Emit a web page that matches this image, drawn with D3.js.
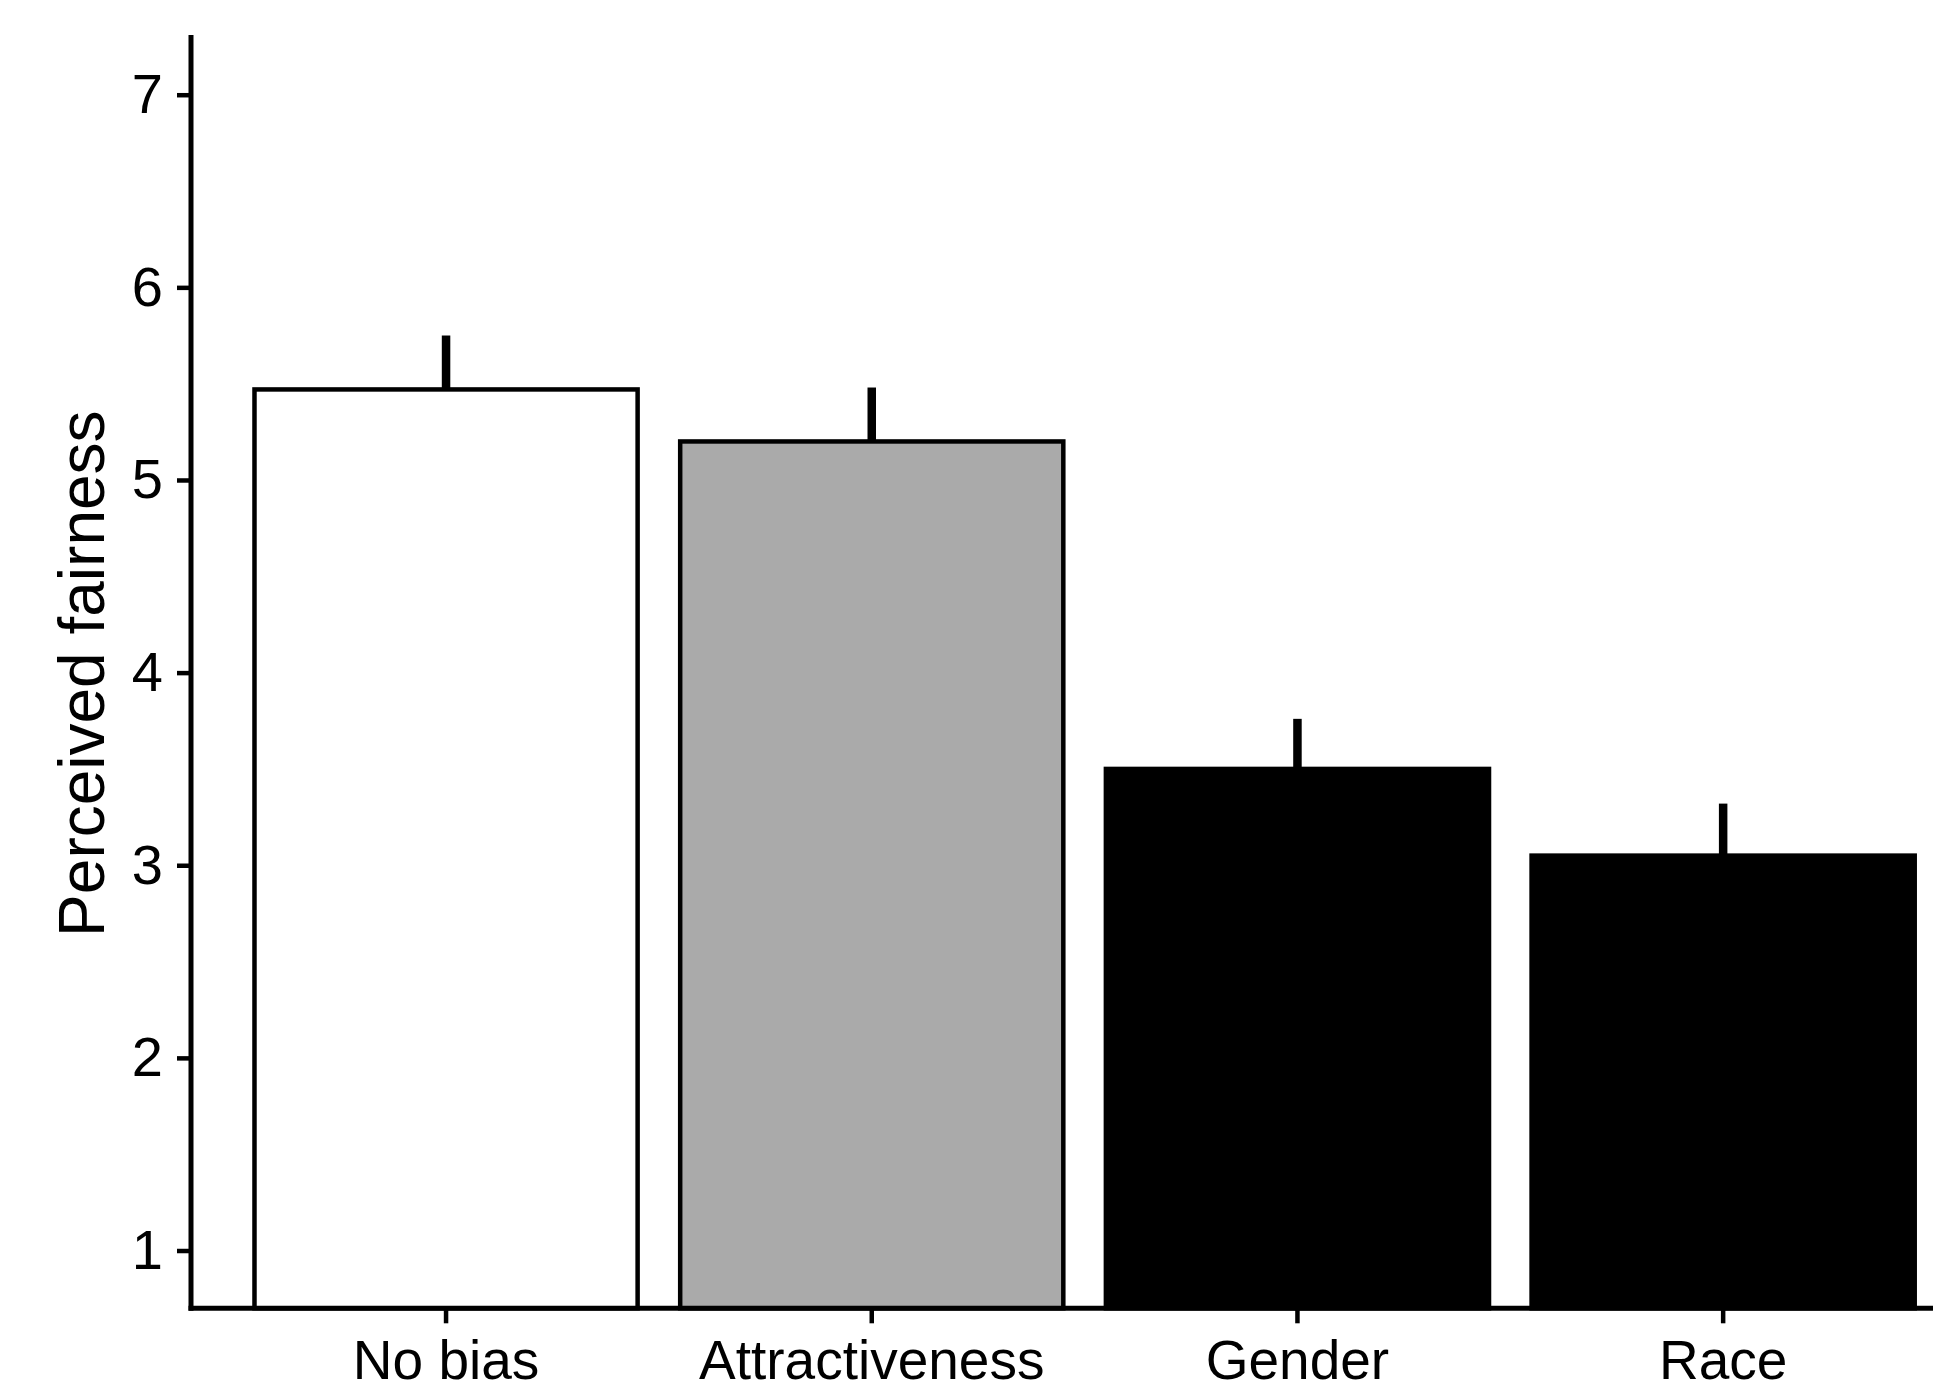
<!DOCTYPE html>
<html>
<head>
<meta charset="utf-8">
<script src="https://cdn.jsdelivr.net/npm/d3@7"></script>
<style>
  html, body { margin: 0; padding: 0; background: #fff; }
  svg { display: block; }
  text { font-family: "Liberation Sans", Arial, Helvetica, sans-serif; fill: #000; }
</style>
</head>
<body>
<svg id="chart" width="1933" height="1383"></svg>
<script>
// Mean perceived fairness by bias condition, with upper error bars
const categories = ["No bias", "Attractiveness", "Gender", "Race"];
const means = [5.47, 5.20, 3.50, 3.05];
const errorTops = [5.75, 5.48, 3.76, 3.32];
const fills = ["#ffffff", "#aaaaaa", "#000000", "#000000"];
const yTicks = [1, 2, 3, 4, 5, 6, 7];
const yTitle = "Perceived fairness";

const svg = d3.select("#chart");

const axisX = 191;     // position of the vertical axis
const y = d3.scaleLinear().domain([0.7, 7.31]).range([1308.3, 35]);
const x = d3.scaleBand().domain(categories)
  .range([233.2, 1936]).paddingInner(0.1).paddingOuter(0.05);

// bars
svg.append("g").selectAll("rect")
  .data(categories)
  .join("rect")
  .attr("x", d => x(d))
  .attr("width", x.bandwidth())
  .attr("y", (d, i) => y(means[i]))
  .attr("height", (d, i) => y(0.7) - y(means[i]))
  .attr("fill", (d, i) => fills[i])
  .attr("stroke", "#000")
  .attr("stroke-width", 4.5);

// upper error bars
svg.append("g").selectAll("line")
  .data(categories)
  .join("line")
  .attr("x1", d => x(d) + x.bandwidth() / 2)
  .attr("x2", d => x(d) + x.bandwidth() / 2)
  .attr("y1", (d, i) => y(means[i]))
  .attr("y2", (d, i) => y(errorTops[i]))
  .attr("stroke", "#000")
  .attr("stroke-width", 8.5);

// y axis
const yAxis = d3.axisLeft(y).tickValues(yTicks).tickSize(14).tickPadding(14)
  .tickFormat(d3.format("d"));
const gy = svg.append("g").attr("transform", `translate(${axisX},0)`).call(yAxis);
gy.select(".domain").remove();
gy.append("line").attr("x1", 0).attr("x2", 0)
  .attr("y1", y(7.31)).attr("y2", y(0.7) + 2.5)
  .attr("stroke", "#000").attr("stroke-width", 5);
gy.selectAll(".tick line").attr("stroke", "#000").attr("stroke-width", 4.5);
gy.selectAll(".tick text").style("font-size", "56px").attr("fill", "#000");

// x axis
const xAxis = d3.axisBottom(x).tickSize(15).tickPadding(17);
const gx = svg.append("g").attr("transform", `translate(0,${y(0.7)})`).call(xAxis);
gx.select(".domain").remove();
gx.append("line").attr("x1", axisX - 2.5).attr("x2", 1933)
  .attr("y1", 0).attr("y2", 0)
  .attr("stroke", "#000").attr("stroke-width", 5);
gx.selectAll(".tick line").attr("stroke", "#000").attr("stroke-width", 4.5);
gx.selectAll(".tick text").style("font-size", "55px").attr("fill", "#000");

// y axis title
svg.append("text")
  .attr("transform", `translate(104, ${(y(0.7) + y(7.31)) / 2 + 2}) rotate(-90)`)
  .attr("text-anchor", "middle")
  .style("font-size", "64px")
  .text(yTitle);
</script>
</body>
</html>
